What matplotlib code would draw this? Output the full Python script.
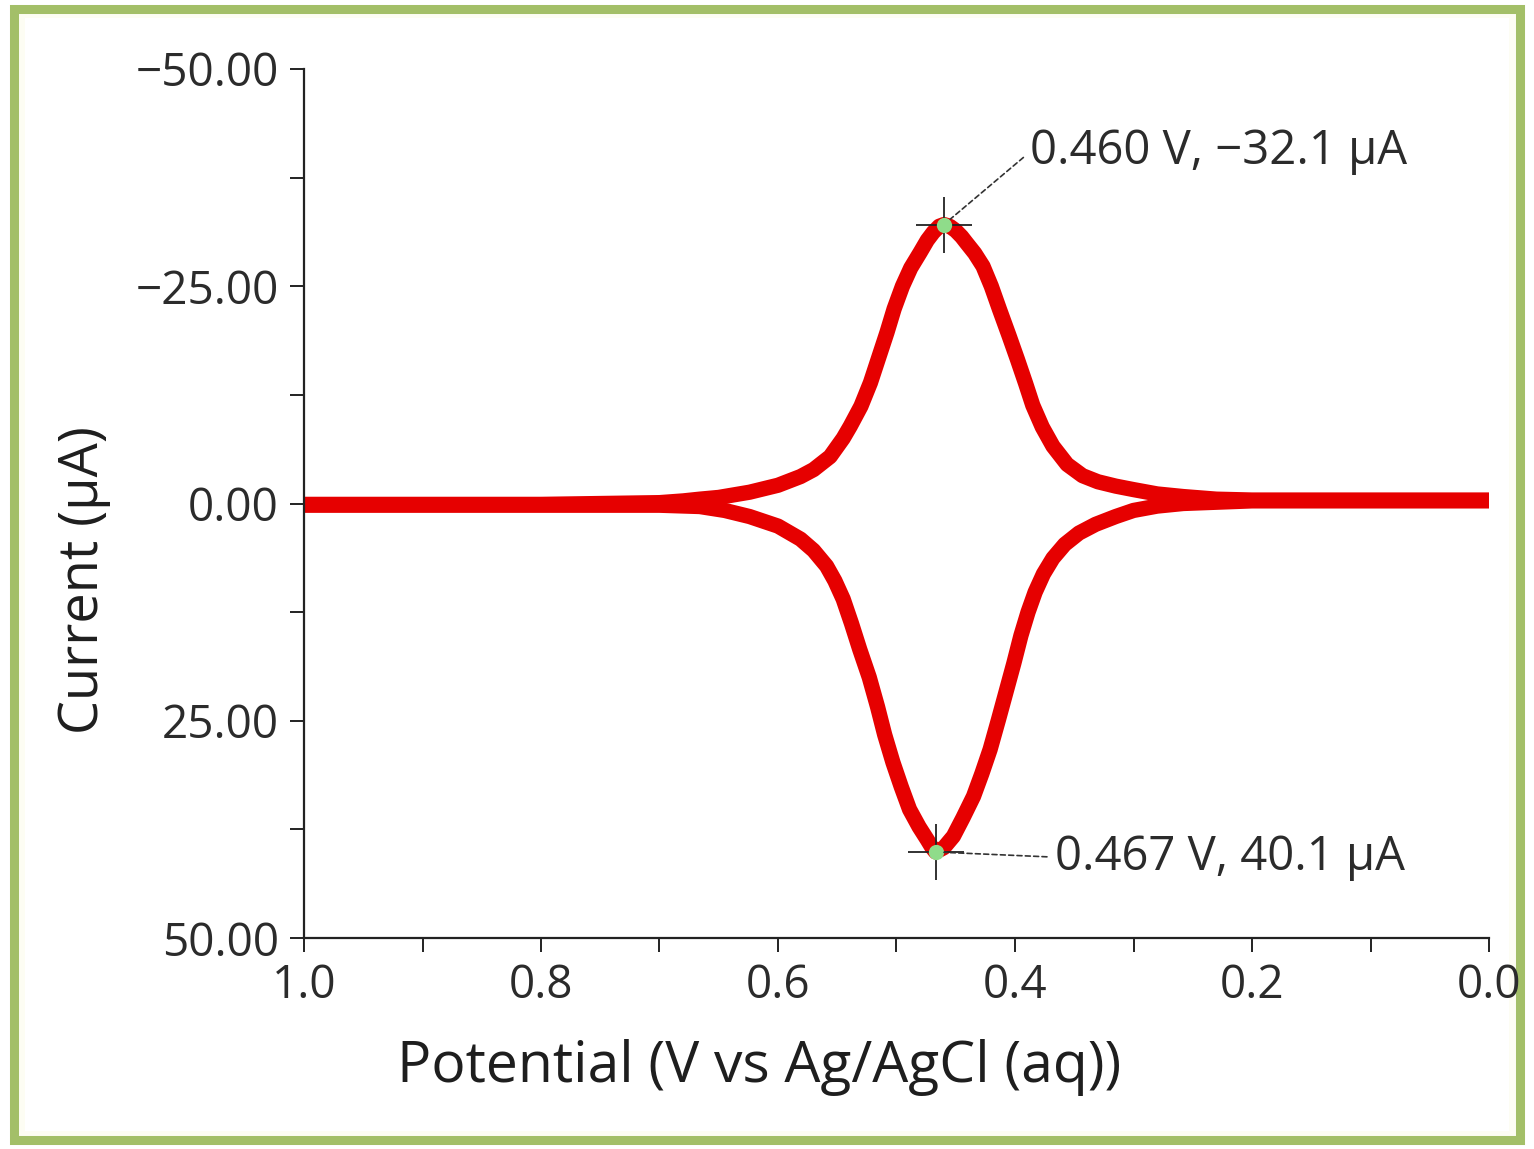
import matplotlib
matplotlib.use("Agg")
import matplotlib.pyplot as plt
from matplotlib.ticker import FuncFormatter, MultipleLocator
from matplotlib.patches import Rectangle

plt.rcParams['font.family'] = ['Open Sans', 'DejaVu Sans']

# ---- data ----
upper_potential = [1.000, 0.900, 0.800, 0.700, 0.680, 0.666, 0.650, 0.624, 0.600, 0.581,
                   0.570, 0.556, 0.545, 0.539, 0.530, 0.522, 0.515, 0.508, 0.502, 0.495,
                   0.488, 0.480, 0.474, 0.469, 0.464, 0.460, 0.455, 0.450, 0.445, 0.441,
                   0.434, 0.427, 0.420, 0.413, 0.405, 0.398, 0.391, 0.385, 0.377, 0.368,
                   0.356, 0.343, 0.330, 0.315, 0.300, 0.280, 0.258, 0.230, 0.200, 0.100,
                   0.000]
upper_current = [0.1, 0.1, 0.1, -0.1, -0.3, -0.5, -0.7, -1.3, -2.1, -3.1,
                 -3.9, -5.4, -7.5, -8.9, -11.2, -13.9, -16.8, -19.7, -22.4, -25.0,
                 -27.1, -28.9, -30.3, -31.2, -31.9, -32.1, -31.9, -31.4, -30.7, -30.0,
                 -28.8, -27.3, -25.0, -22.3, -19.3, -16.6, -13.8, -11.3, -8.8, -6.6,
                 -4.5, -3.2, -2.5, -2.0, -1.6, -1.1, -0.8, -0.5, -0.4, -0.4,
                 -0.4]

lower_potential = [1.000, 0.900, 0.800, 0.700, 0.666, 0.645, 0.624, 0.600, 0.581, 0.570,
                   0.559, 0.552, 0.545, 0.538, 0.531, 0.523, 0.516, 0.510, 0.503, 0.496,
                   0.489, 0.481, 0.474, 0.470, 0.467, 0.460, 0.452, 0.444, 0.435, 0.428,
                   0.421, 0.414, 0.407, 0.401, 0.395, 0.389, 0.383, 0.376, 0.368, 0.358,
                   0.346, 0.332, 0.315, 0.300, 0.280, 0.258, 0.200, 0.100, 0.000]
lower_current = [0.2, 0.2, 0.2, 0.2, 0.35, 0.8, 1.5, 2.6, 4.1, 5.4,
                 7.2, 8.9, 11.0, 13.8, 16.8, 20.0, 23.4, 26.6, 29.8, 32.6,
                 35.2, 37.2, 38.7, 39.6, 40.1, 39.6, 38.3, 36.2, 33.7, 31.1,
                 28.3, 24.9, 21.4, 18.4, 15.2, 12.5, 10.2, 8.1, 6.3, 4.7,
                 3.4, 2.4, 1.5, 0.8, 0.3, 0.0, -0.3, -0.3, -0.3]

peak_potential = [0.460, 0.467]
peak_current = [-32.1, 40.1]
peak_labels = ["0.460 V, \u221232.1 \u00b5A", "0.467 V, 40.1 \u00b5A"]
peak_text_pos = [(0.387, -40.5), (0.366, 40.7)]

x_ticks = [1.0, 0.8, 0.6, 0.4, 0.2, 0.0]
y_ticks = [-50, -25, 0, 25, 50]

# ---- figure ----
fig = plt.figure(figsize=(15.34, 11.49), dpi=100)
fig.patch.set_facecolor('white')

# green frame
fig.add_artist(Rectangle((0.009, 0.008), 0.982, 0.984, transform=fig.transFigure,
                         facecolor='#fdfdf3', edgecolor='#a3bf68', linewidth=6.5, zorder=0))
fig.add_artist(Rectangle((0.016, 0.016), 0.968, 0.968, transform=fig.transFigure,
                         facecolor='white', edgecolor='none', zorder=0))

ax = fig.add_axes([304/1534, 1 - 938/1149, (1489-304)/1534, (938-69)/1149])
ax.set_facecolor('none')

red = '#e60000'
ax.plot(upper_potential, upper_current, color=red, lw=11, solid_capstyle='butt',
        solid_joinstyle='round', zorder=2)
ax.plot(lower_potential, lower_current, color=red, lw=11, solid_capstyle='butt',
        solid_joinstyle='round', zorder=2)

# peak markers
ax.plot(peak_potential, peak_current, linestyle='none', marker='+', color='#222222',
        markersize=40, markeredgewidth=1.3, zorder=3)
ax.plot(peak_potential, peak_current, linestyle='none', marker='o', color='#8fdc8a',
        markersize=11, markeredgewidth=0, zorder=4)

for (px, py), lab, (tx, ty) in zip(zip(peak_potential, peak_current), peak_labels, peak_text_pos):
    ax.annotate(lab, xy=(px, py), xytext=(tx, ty), textcoords='data',
                ha='left', va='center', fontsize=34, color='#2b2b2b',
                arrowprops=dict(arrowstyle='-', linestyle=(0, (3, 2)), color='#333333',
                                lw=1.2, shrinkA=4, shrinkB=6, relpos=(0, 0.5)),
                zorder=5)

ax.set_xlim(1.0, 0.0)
ax.set_ylim(50, -50)
ax.set_xticks(x_ticks)
ax.set_yticks(y_ticks)
ax.xaxis.set_minor_locator(MultipleLocator(0.1))
ax.yaxis.set_minor_locator(MultipleLocator(12.5))
ax.xaxis.set_major_formatter(FuncFormatter(lambda v, p: f"{v:.1f}"))
ax.yaxis.set_major_formatter(FuncFormatter(
    lambda v, p: ("0.00" if abs(v) < 1e-9 else f"{v:.2f}".replace('-', '\u2212'))))

for side in ['top', 'right']:
    ax.spines[side].set_visible(False)
for side in ['left', 'bottom']:
    ax.spines[side].set_color('#222222')
    ax.spines[side].set_linewidth(1.6)

ax.tick_params(axis='both', which='both', direction='out', length=10, width=1.4,
               color='#222222', labelcolor='#2b2b2b', labelsize=33)
ax.tick_params(axis='y', which='major', pad=8)
ax.tick_params(axis='x', which='major', pad=8)

ax.set_xlabel("Potential (V vs Ag/AgCl (aq))", fontsize=41, color='#1e1e1e')
ax.xaxis.label.set_va('center')
ax.xaxis.set_label_coords((759-304)/1185, (938-1068)/869)
ax.set_ylabel("Current (\u00b5A)", fontsize=39, color='#1e1e1e')
ax.yaxis.label.set_va('center')
ax.yaxis.set_label_coords((84-304)/1185, (938-580)/869)

fig.savefig("out.png", dpi=100, facecolor=fig.get_facecolor())
